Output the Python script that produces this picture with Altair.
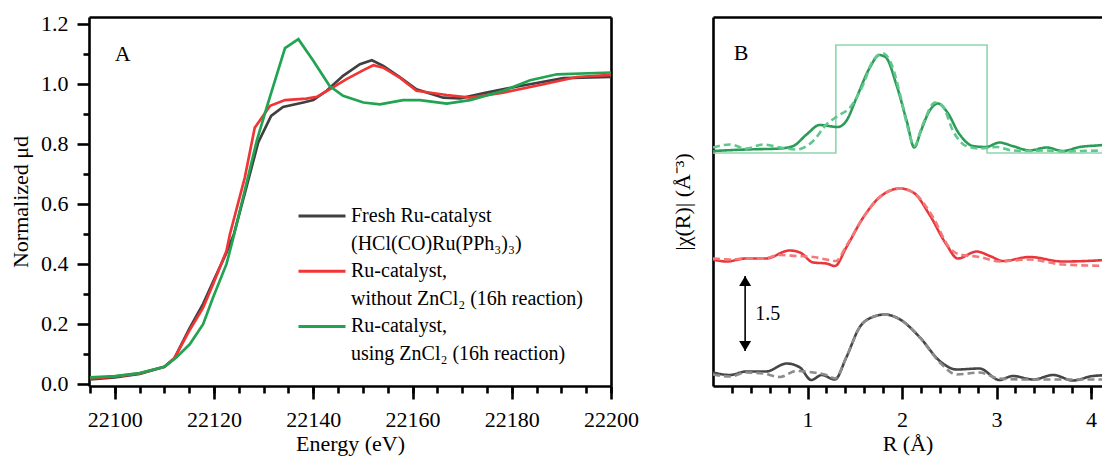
import altair as alt
import pandas as pd

FONT = "Liberation Serif"

# ---------------- Panel A : XANES ----------------
fresh_E = [22095, 22100, 22105, 22110, 22112, 22115, 22117.8, 22119.8, 22122.5, 22124, 22126.5,
           22128.9, 22131.5, 22133.9, 22138, 22140, 22142.7, 22146, 22149.4, 22151.8, 22154.1,
           22157.5, 22160.8, 22166.2, 22169.6, 22174.9, 22181.7, 22190.4, 22200]
fresh_mu = [0.015, 0.022, 0.033, 0.057, 0.085, 0.183, 0.267, 0.340, 0.437, 0.499, 0.654,
            0.805, 0.893, 0.923, 0.938, 0.946, 0.977, 1.027, 1.066, 1.079, 1.060,
            1.022, 0.982, 0.954, 0.952, 0.971, 0.993, 1.019, 1.023]

nozn_E = [22095, 22100, 22105, 22110, 22112, 22115, 22117.8, 22119.8, 22122.5, 22123.2, 22126.2,
          22128.2, 22131.3, 22134.3, 22138.6, 22140.7, 22143.3, 22146.7, 22150.1, 22152.1, 22154.1,
          22157.5, 22160.8, 22166.9, 22171.6, 22178.3, 22186.4, 22193.1, 22200]
nozn_mu = [0.018, 0.024, 0.035, 0.057, 0.085, 0.177, 0.254, 0.332, 0.443, 0.499, 0.688,
           0.854, 0.927, 0.946, 0.951, 0.957, 0.982, 1.016, 1.046, 1.062, 1.054,
           1.020, 0.977, 0.963, 0.954, 0.971, 0.999, 1.023, 1.030]

zn_E = [22095, 22100, 22105, 22110, 22112.4, 22115.1, 22117.8, 22119.8, 22122.5, 22123.9, 22128.6,
        22130.6, 22134.3, 22137, 22140, 22143.3, 22146, 22150.1, 22153.4, 22158.1, 22161.5,
        22166.9, 22171.6, 22178.3, 22183.7, 22189.1, 22200]
zn_mu = [0.022, 0.026, 0.036, 0.057, 0.088, 0.132, 0.199, 0.288, 0.399, 0.488, 0.810,
         0.921, 1.119, 1.149, 1.077, 0.993, 0.960, 0.938, 0.932, 0.946, 0.946,
         0.934, 0.946, 0.977, 1.012, 1.032, 1.038]

legend_keys = ["fresh", "fresh2", "nozn", "nozn2", "zn", "zn2"]
legend_text = ["Fresh Ru-catalyst", "(HCl(CO)Ru(PPh₃)₃)", "Ru-catalyst,",
               "without ZnCl₂ (16h reaction)", "Ru-catalyst,", "using ZnCl₂ (16h reaction)"]
legend_colors = ["#404040", "transparent", "#ef3535", "transparent", "#22a352", "transparent"]

xA_ticks = [22100, 22120, 22140, 22160, 22180, 22200]
xA_minor = list(range(22095, 22201, 5))
yA_ticks = [0.0, 0.2, 0.4, 0.6, 0.8, 1.0, 1.2]
yA_minor = [0.1, 0.3, 0.5, 0.7, 0.9, 1.1]

# ---------------- Panel B : EXAFS ----------------
fresh_exp_R = [0, 0.18, 0.35, 0.56, 0.78, 0.92, 1.04, 1.15, 1.29, 1.41, 1.55, 1.69, 1.82, 1.98,
               2.19, 2.40, 2.58, 2.82, 3.03, 3.17, 3.39, 3.60, 3.81, 4.02, 4.22]
fresh_exp_chi = [0.29, 0.24, 0.31, 0.31, 0.47, 0.39, 0.14, 0.24, 0.15, 0.59, 1.19, 1.40, 1.45, 1.35,
                 0.99, 0.52, 0.35, 0.37, 0.14, 0.22, 0.15, 0.24, 0.13, 0.22, 0.24]
fresh_fit_R = [0, 0.18, 0.35, 0.53, 0.71, 0.88, 1.06, 1.20, 1.29, 1.41, 1.55, 1.69, 1.82, 1.98,
               2.19, 2.40, 2.58, 2.82, 3.03, 3.35, 3.70, 4.22]
fresh_fit_chi = [0.25, 0.21, 0.29, 0.27, 0.20, 0.32, 0.29, 0.24, 0.17, 0.59, 1.19, 1.40, 1.45, 1.35,
                 0.99, 0.49, 0.25, 0.29, 0.17, 0.15, 0.15, 0.15]

nozn_exp_R = [0, 0.14, 0.35, 0.56, 0.81, 0.92, 1.06, 1.20, 1.29, 1.41, 1.59, 1.76, 1.98, 2.12,
              2.29, 2.47, 2.59, 2.79, 2.93, 3.07, 3.35, 3.70, 4.06, 4.22]
nozn_exp_chi = [2.55, 2.51, 2.57, 2.57, 2.73, 2.69, 2.49, 2.47, 2.42, 2.79, 3.39, 3.79, 3.97, 3.89,
                3.45, 2.85, 2.57, 2.71, 2.62, 2.52, 2.60, 2.51, 2.53, 2.55]
nozn_fit_R = [0, 0.18, 0.35, 0.53, 0.71, 0.88, 1.06, 1.20, 1.30, 1.41, 1.59, 1.76, 1.98, 2.12,
              2.33, 2.50, 2.61, 2.82, 3.03, 3.35, 3.70, 4.22]
nozn_fit_chi = [2.57, 2.55, 2.57, 2.57, 2.64, 2.62, 2.60, 2.55, 2.52, 2.82, 3.39, 3.79, 3.97, 3.89,
                3.39, 2.79, 2.65, 2.60, 2.51, 2.55, 2.45, 2.42]

zn_exp_R = [0, 0.35, 0.71, 0.85, 0.99, 1.13, 1.22, 1.32, 1.41, 1.52, 1.66, 1.76, 1.83, 1.94, 2.05,
            2.13, 2.20, 2.29, 2.38, 2.47, 2.61, 2.75, 2.89, 3.03, 3.17, 3.35, 3.53, 3.70, 3.88,
            4.06, 4.22]
zn_exp_chi = [4.72, 4.75, 4.77, 4.82, 5.05, 5.24, 5.22, 5.20, 5.32, 5.79, 6.39, 6.64, 6.59, 6.05, 5.32,
              4.79, 5.12, 5.52, 5.67, 5.52, 5.05, 4.82, 4.80, 4.89, 4.82, 4.73, 4.79, 4.72, 4.80,
              4.83, 4.85]
zn_fit_R = [0, 0.18, 0.35, 0.53, 0.71, 0.88, 1.06, 1.20, 1.32, 1.45, 1.59, 1.69, 1.80, 1.89, 1.98,
            2.06, 2.13, 2.22, 2.35, 2.43, 2.54, 2.68, 2.82, 3.00, 3.17, 3.35, 3.53, 3.70, 3.88, 4.22]
zn_fit_chi = [4.79, 4.85, 4.77, 4.85, 4.79, 4.75, 4.92, 5.25, 5.42, 5.59, 6.05, 6.52, 6.67, 6.45, 5.85,
              5.19, 4.82, 5.25, 5.69, 5.62, 5.12, 4.82, 4.77, 4.80, 4.73, 4.72, 4.73, 4.71, 4.72, 4.73]

window_R = [0, 1.30, 1.30, 2.90, 2.90, 4.22]
window_chi = [4.68, 4.68, 6.84, 6.84, 4.68, 4.68]

b_keys = ["fresh_exp", "fresh_fit", "nozn_exp", "nozn_fit", "zn_exp", "zn_fit"]
b_colors = ["#464646", "#8c8c8c", "#e8363c", "#f27a7a", "#2b9c57", "#62c78e"]
b_dashes = [[1, 0], [7, 4], [1, 0], [7, 4], [1, 0], [7, 4]]

scale_bar_R = [0.34]
scale_bar_lo = [0.72]
scale_bar_len = 1.5

xB_ticks = [1, 2, 3, 4]
xB_minor = [0.2, 0.4, 0.6, 0.8, 1.2, 1.4, 1.6, 1.8, 2.2, 2.4, 2.6, 2.8, 3.2, 3.4, 3.6, 3.8, 4.0]

# ---------------- build tables ----------------
dfA = pd.concat([
    pd.DataFrame({"E": fresh_E, "mu": fresh_mu, "s": "fresh"}),
    pd.DataFrame({"E": nozn_E, "mu": nozn_mu, "s": "nozn"}),
    pd.DataFrame({"E": zn_E, "mu": zn_mu, "s": "zn"}),
], ignore_index=True)

dfB = pd.concat([
    pd.DataFrame({"R": fresh_exp_R, "chi": fresh_exp_chi, "s": "fresh_exp"}),
    pd.DataFrame({"R": nozn_exp_R, "chi": nozn_exp_chi, "s": "nozn_exp"}),
    pd.DataFrame({"R": zn_exp_R, "chi": zn_exp_chi, "s": "zn_exp"}),
    pd.DataFrame({"R": fresh_fit_R, "chi": fresh_fit_chi, "s": "fresh_fit"}),
    pd.DataFrame({"R": nozn_fit_R, "chi": nozn_fit_chi, "s": "nozn_fit"}),
    pd.DataFrame({"R": zn_fit_R, "chi": zn_fit_chi, "s": "zn_fit"}),
], ignore_index=True)
dfW = pd.DataFrame({"R": window_R, "chi": window_chi})
dfBar = pd.DataFrame({"R": scale_bar_R, "lo": scale_bar_lo,
                      "hi": [v + scale_bar_len for v in scale_bar_lo],
                      "t": [str(scale_bar_len)]})

label_expr = " : ".join(f"datum.value == '{k}' ? '{t}'" for k, t in zip(legend_keys, legend_text)) + " : ''"

# ---------------- sizes / scales ----------------
WA, WB, H = 522, 389, 369
xA_scale = alt.Scale(domain=[22094.8, 22200], nice=False, zero=False)
yA_scale = alt.Scale(domain=[-0.007, 1.223], nice=False, zero=False)
xB_scale = alt.Scale(domain=[0, WB / 94.5], nice=False, zero=False)
yB_scale = alt.Scale(domain=[0.02, 7.4], nice=False, zero=False)

# ---------------- Panel A ----------------
linesA = alt.Chart(dfA).mark_line(strokeWidth=2.7).encode(
    x=alt.X("E:Q", scale=xA_scale, axis=alt.Axis(
        orient="bottom", values=xA_ticks, format="d", title="Energy (eV)", tickSize=13,
        labelPadding=10, titlePadding=3, labelFlush=False, labelOverlap=False)),
    y=alt.Y("mu:Q", scale=yA_scale, axis=alt.Axis(
        orient="left", values=yA_ticks, format=".1f", title="Normalized μd", tickSize=12,
        labelPadding=9, titlePadding=8, labelFlush=False, labelOverlap=False)),
    color=alt.Color("s:N", scale=alt.Scale(domain=legend_keys, range=legend_colors),
                    legend=alt.Legend(orient="none", legendX=208, legendY=186, title=None,
                                      symbolType="stroke", symbolSize=2209, symbolStrokeWidth=3,
                                      labelFont=FONT, labelFontSize=20, labelColor="black",
                                      labelExpr=label_expr, labelLimit=500, clipHeight=26,
                                      rowPadding=1.6, padding=0, labelOffset=4)),
    detail="s:N",
)
minorA = alt.Chart(dfA).mark_point(opacity=0, clip=True).encode(
    x=alt.X("E:Q", scale=xA_scale, axis=alt.Axis(orient="bottom", values=xA_minor, tickSize=7,
                                                 labels=False, domain=False, title=None)),
    y=alt.Y("mu:Q", scale=yA_scale, axis=alt.Axis(orient="left", values=yA_minor, tickSize=6,
                                                  labels=False, domain=False, title=None)),
)
frameA = alt.Chart(dfA).mark_point(opacity=0, clip=True).encode(
    x=alt.X("E:Q", scale=xA_scale, axis=alt.Axis(orient="top", ticks=False, labels=False, title=None)),
    y=alt.Y("mu:Q", scale=yA_scale, axis=alt.Axis(orient="right", ticks=False, labels=False, title=None)),
)
tagA = alt.Chart(pd.DataFrame({"E": [22100], "mu": [1.10], "t": ["A"]})).mark_text(
    align="left", baseline="middle", font=FONT, fontSize=22, color="black").encode(
    x=alt.X("E:Q", scale=xA_scale, axis=None), y=alt.Y("mu:Q", scale=yA_scale, axis=None), text="t:N")

panelA = alt.layer(linesA, minorA, frameA, tagA).resolve_axis(
    x="independent", y="independent").properties(width=WA, height=H)

# ---------------- Panel B ----------------
windowB = alt.Chart(dfW).mark_line(color="#8fd6ae", strokeWidth=1.6, clip=True).encode(
    x=alt.X("R:Q", scale=xB_scale, axis=alt.Axis(
        orient="bottom", values=xB_ticks, format="d", title="R (Å)", tickSize=13,
        labelPadding=10, titlePadding=3, labelFlush=False, labelOverlap=False)),
    y=alt.Y("chi:Q", scale=yB_scale, axis=alt.Axis(
        orient="left", title="|χ(R)| (Å⁻³)", ticks=False, labels=False, titlePadding=19)),
)
linesB = alt.Chart(dfB).mark_line(strokeWidth=2.6, clip=True, interpolate="monotone").encode(
    x=alt.X("R:Q", scale=xB_scale, axis=None),
    y=alt.Y("chi:Q", scale=yB_scale, axis=None),
    color=alt.Color("s:N", scale=alt.Scale(domain=b_keys, range=b_colors), legend=None),
    strokeDash=alt.StrokeDash("s:N", scale=alt.Scale(domain=b_keys, range=b_dashes), legend=None),
    detail="s:N",
)
minorB = alt.Chart(dfB).mark_point(opacity=0, clip=True).encode(
    x=alt.X("R:Q", scale=xB_scale, axis=alt.Axis(orient="bottom", values=xB_minor, tickSize=7,
                                                labels=False, domain=False, title=None)),
    y=alt.Y("chi:Q", scale=yB_scale, axis=None),
)
frameB = alt.Chart(dfB).mark_point(opacity=0, clip=True).encode(
    x=alt.X("R:Q", scale=xB_scale, axis=alt.Axis(orient="top", ticks=False, labels=False, title=None)),
    y=alt.Y("chi:Q", scale=yB_scale, axis=None),
)
barRule = alt.Chart(dfBar).mark_rule(color="black", strokeWidth=1.6).encode(
    x=alt.X("R:Q", scale=xB_scale, axis=None),
    y=alt.Y("lo:Q", scale=yB_scale, axis=None), y2="hi:Q")
barTop = alt.Chart(dfBar).mark_point(shape="M0,0L-0.6,1L0.6,1Z", size=400, filled=True,
                                     color="black", opacity=1).encode(
    x=alt.X("R:Q", scale=xB_scale, axis=None), y=alt.Y("hi:Q", scale=yB_scale, axis=None))
barBot = alt.Chart(dfBar).mark_point(shape="M0,0L-0.6,-1L0.6,-1Z", size=400, filled=True,
                                     color="black", opacity=1).encode(
    x=alt.X("R:Q", scale=xB_scale, axis=None), y=alt.Y("lo:Q", scale=yB_scale, axis=None))
barText = alt.Chart(dfBar).transform_calculate(mid="(datum.lo + datum.hi) / 2").mark_text(
    align="left", baseline="middle", font=FONT, fontSize=20, color="black", dx=10).encode(
    x=alt.X("R:Q", scale=xB_scale, axis=None), y=alt.Y("mid:Q", scale=yB_scale, axis=None),
    text="t:N")
tagB = alt.Chart(pd.DataFrame({"R": [0.22], "chi": [6.68], "t": ["B"]})).mark_text(
    align="left", baseline="middle", font=FONT, fontSize=22, color="black").encode(
    x=alt.X("R:Q", scale=xB_scale, axis=None), y=alt.Y("chi:Q", scale=yB_scale, axis=None), text="t:N")

panelB = alt.layer(windowB, linesB, minorB, frameB, barRule, barTop, barBot, barText, tagB).resolve_axis(
    x="independent", y="independent").properties(width=WB, height=H)

chart = alt.hconcat(panelA, panelB, spacing=32).resolve_scale(
    color="independent", strokeDash="independent"
).properties(
    padding={"left": 1, "top": 4, "right": 0, "bottom": 3},
    background="white",
).configure_view(stroke=None).configure_axis(
    labelFont=FONT, titleFont=FONT, labelFontSize=22, titleFontSize=22,
    labelColor="black", titleColor="black", titleFontWeight="normal",
    domainColor="black", tickColor="black", domainWidth=2.6, tickWidth=2.6, grid=False,
    minExtent=0,
)

chart.save("out.html", embed_options={"renderer": "svg", "actions": False})
